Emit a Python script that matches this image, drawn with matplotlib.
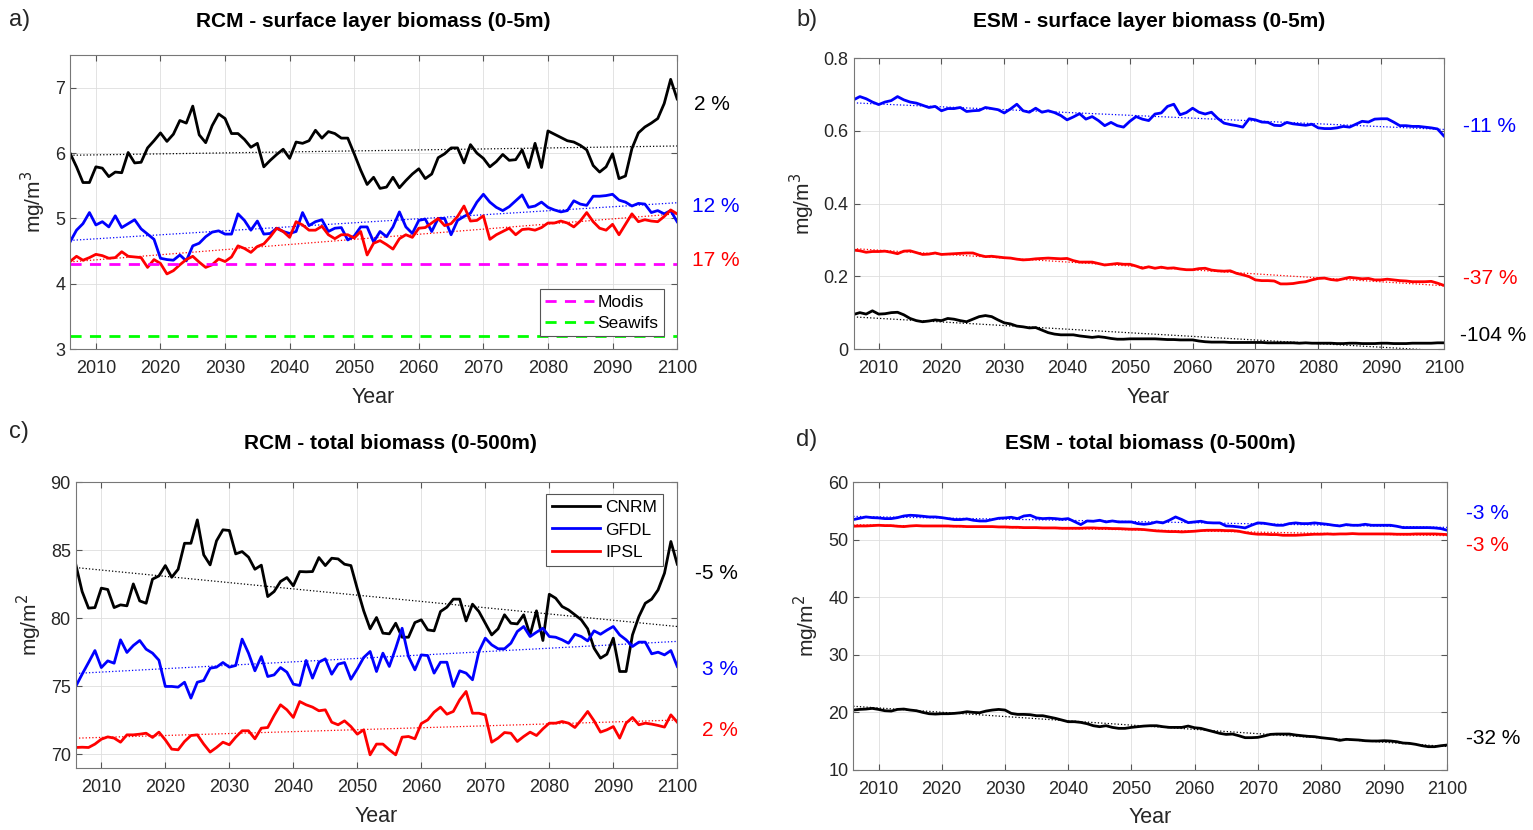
import numpy as np
import matplotlib
matplotlib.use('Agg')
import matplotlib.pyplot as plt

plt.rcParams['font.family'] = ['Liberation Sans', 'DejaVu Sans']

years = np.arange(2006, 2101)

# a) RCM surface layer (mg/m3)
rcm_surf_cnrm = [6.00, 5.79, 5.55, 5.55, 5.79, 5.77, 5.64, 5.71, 5.70, 6.01,
                 5.85, 5.86, 6.08, 6.19, 6.31, 6.18, 6.29, 6.50, 6.46, 6.72,
                 6.28, 6.16, 6.42, 6.60, 6.53, 6.30, 6.30, 6.21, 6.09, 6.15,
                 5.79, 5.89, 5.98, 6.06, 5.92, 6.17, 6.15, 6.19, 6.35, 6.23,
                 6.33, 6.30, 6.23, 6.23, 5.99, 5.74, 5.52, 5.63, 5.46, 5.48,
                 5.63, 5.47, 5.58, 5.68, 5.76, 5.61, 5.68, 5.93, 5.99, 6.08,
                 6.08, 5.85, 6.13, 6.00, 5.92, 5.79, 5.87, 5.98, 5.89, 5.90,
                 6.05, 5.78, 6.15, 5.78, 6.34, 6.29, 6.24, 6.19, 6.17, 6.12,
                 6.05, 5.81, 5.71, 5.79, 5.99, 5.61, 5.65, 6.07, 6.31, 6.40,
                 6.46, 6.53, 6.76, 7.13, 6.83]
rcm_surf_gfdl = [4.64, 4.82, 4.92, 5.09, 4.90, 4.95, 4.87, 5.04, 4.86, 4.92,
                 4.98, 4.84, 4.76, 4.68, 4.39, 4.37, 4.36, 4.44, 4.35, 4.58,
                 4.62, 4.72, 4.79, 4.81, 4.76, 4.76, 5.07, 4.97, 4.82, 4.96,
                 4.76, 4.77, 4.85, 4.80, 4.77, 4.80, 5.09, 4.89, 4.95, 4.98,
                 4.80, 4.85, 4.86, 4.67, 4.73, 4.87, 4.87, 4.64, 4.80, 4.72,
                 4.87, 5.10, 4.87, 4.77, 4.97, 4.99, 4.80, 5.00, 5.00, 4.75,
                 4.97, 5.03, 5.08, 5.25, 5.37, 5.25, 5.17, 5.12, 5.18, 5.27,
                 5.36, 5.17, 5.19, 5.25, 5.17, 5.13, 5.10, 5.12, 5.27, 5.22,
                 5.20, 5.34, 5.34, 5.35, 5.37, 5.28, 5.25, 5.19, 5.23, 5.22,
                 5.09, 5.12, 5.07, 5.12, 4.95]
rcm_surf_ipsl = [4.34, 4.42, 4.36, 4.40, 4.45, 4.43, 4.39, 4.40, 4.49, 4.42,
                 4.41, 4.40, 4.25, 4.37, 4.31, 4.15, 4.20, 4.29, 4.37, 4.42,
                 4.33, 4.25, 4.29, 4.38, 4.34, 4.41, 4.58, 4.54, 4.48, 4.57,
                 4.61, 4.72, 4.85, 4.80, 4.71, 4.95, 4.90, 4.82, 4.82, 4.88,
                 4.75, 4.69, 4.75, 4.75, 4.70, 4.80, 4.44, 4.62, 4.66, 4.60,
                 4.53, 4.69, 4.75, 4.71, 4.85, 4.86, 4.93, 5.00, 4.89, 4.92,
                 5.03, 5.19, 4.96, 4.97, 5.04, 4.68, 4.75, 4.80, 4.85, 4.75,
                 4.83, 4.84, 4.82, 4.86, 4.93, 4.93, 4.96, 4.93, 4.87, 4.96,
                 5.09, 4.95, 4.85, 4.82, 4.91, 4.75, 4.91, 5.07, 4.95, 4.98,
                 4.96, 4.95, 5.03, 5.13, 5.07]
modis = 4.3
seawifs = 3.2

# b) ESM surface layer (mg/m3)
esm_surf_cnrm = [0.095, 0.100, 0.096, 0.105, 0.096, 0.097, 0.100, 0.101, 0.094, 0.084,
                 0.078, 0.075, 0.077, 0.080, 0.078, 0.084, 0.082, 0.078, 0.075, 0.082,
                 0.089, 0.092, 0.089, 0.080, 0.072, 0.069, 0.063, 0.061, 0.058, 0.059,
                 0.052, 0.045, 0.041, 0.039, 0.039, 0.039, 0.036, 0.034, 0.032, 0.034,
                 0.032, 0.029, 0.027, 0.027, 0.028, 0.028, 0.028, 0.028, 0.028, 0.027,
                 0.026, 0.026, 0.025, 0.025, 0.025, 0.022, 0.020, 0.019, 0.019, 0.019,
                 0.018, 0.018, 0.018, 0.018, 0.018, 0.018, 0.017, 0.017, 0.017, 0.017,
                 0.017, 0.016, 0.017, 0.016, 0.016, 0.016, 0.016, 0.015, 0.015, 0.016,
                 0.016, 0.015, 0.015, 0.015, 0.016, 0.016, 0.015, 0.015, 0.015, 0.016,
                 0.016, 0.016, 0.016, 0.017, 0.017]
esm_surf_gfdl = [0.685, 0.694, 0.688, 0.679, 0.672, 0.679, 0.683, 0.694, 0.685, 0.679,
                 0.676, 0.670, 0.664, 0.667, 0.655, 0.661, 0.661, 0.664, 0.653, 0.655,
                 0.656, 0.664, 0.661, 0.658, 0.649, 0.660, 0.673, 0.655, 0.651, 0.662,
                 0.651, 0.655, 0.650, 0.642, 0.630, 0.638, 0.647, 0.632, 0.639, 0.628,
                 0.614, 0.623, 0.614, 0.610, 0.626, 0.639, 0.632, 0.628, 0.646, 0.649,
                 0.667, 0.673, 0.644, 0.650, 0.662, 0.651, 0.646, 0.651, 0.634, 0.621,
                 0.617, 0.614, 0.610, 0.633, 0.630, 0.624, 0.623, 0.615, 0.614, 0.623,
                 0.619, 0.617, 0.615, 0.618, 0.608, 0.606, 0.606, 0.608, 0.612, 0.610,
                 0.618, 0.626, 0.624, 0.632, 0.633, 0.633, 0.624, 0.614, 0.614, 0.612,
                 0.612, 0.610, 0.608, 0.605, 0.586]
esm_surf_ipsl = [0.272, 0.270, 0.266, 0.268, 0.268, 0.269, 0.266, 0.262, 0.269, 0.270,
                 0.265, 0.260, 0.261, 0.264, 0.260, 0.261, 0.262, 0.263, 0.264, 0.264,
                 0.258, 0.254, 0.255, 0.253, 0.251, 0.250, 0.247, 0.245, 0.246, 0.248,
                 0.249, 0.250, 0.249, 0.248, 0.249, 0.243, 0.239, 0.239, 0.239, 0.235,
                 0.231, 0.233, 0.235, 0.233, 0.233, 0.228, 0.222, 0.226, 0.222, 0.225,
                 0.222, 0.223, 0.220, 0.218, 0.218, 0.221, 0.222, 0.217, 0.215, 0.214,
                 0.215, 0.208, 0.204, 0.199, 0.190, 0.188, 0.188, 0.187, 0.179, 0.179,
                 0.180, 0.183, 0.185, 0.190, 0.194, 0.195, 0.191, 0.189, 0.193, 0.197,
                 0.195, 0.193, 0.194, 0.190, 0.190, 0.192, 0.190, 0.188, 0.187, 0.185,
                 0.185, 0.185, 0.186, 0.181, 0.175]

# c) RCM total biomass (mg/m2)
rcm_tot_cnrm = [83.97, 81.96, 80.74, 80.78, 82.21, 82.11, 80.78, 80.98, 80.91, 82.52,
                81.27, 81.10, 82.87, 83.11, 83.87, 83.01, 83.60, 85.51, 85.51, 87.23,
                84.66, 83.92, 85.69, 86.50, 86.45, 84.73, 84.90, 84.49, 83.60, 83.90,
                81.59, 81.96, 82.70, 82.99, 82.38, 83.43, 83.41, 83.43, 84.46, 83.87,
                84.41, 84.36, 83.97, 83.87, 82.16, 80.54, 79.22, 80.05, 78.90, 78.85,
                79.63, 78.60, 78.60, 79.68, 79.88, 79.14, 79.07, 80.49, 80.81, 81.40,
                81.40, 79.80, 81.03, 80.49, 79.63, 78.77, 79.22, 80.25, 79.63, 79.58,
                80.25, 78.77, 80.54, 78.36, 81.76, 81.47, 80.86, 80.61, 80.25, 79.88,
                79.22, 77.79, 77.06, 77.35, 78.53, 76.08, 76.08, 78.77, 80.12, 81.10,
                81.40, 82.08, 83.31, 85.64, 83.97]
rcm_tot_gfdl = [74.98, 75.88, 76.74, 77.62, 76.37, 76.86, 76.69, 78.41, 77.48, 77.99,
                78.36, 77.72, 77.43, 76.91, 74.98, 74.98, 74.93, 75.29, 74.12, 75.29,
                75.42, 76.32, 76.40, 76.74, 76.40, 76.52, 78.46, 77.43, 76.13, 77.18,
                75.71, 75.83, 76.37, 76.03, 75.15, 75.05, 76.89, 75.59, 76.76, 77.01,
                75.88, 76.62, 76.74, 75.51, 76.27, 77.11, 77.55, 76.08, 77.43, 76.45,
                77.79, 79.26, 77.18, 76.20, 77.30, 77.25, 75.96, 76.76, 76.76, 74.98,
                76.13, 75.96, 75.47, 77.55, 78.53, 78.04, 77.75, 77.75, 78.16, 79.02,
                79.39, 78.65, 78.97, 79.26, 78.65, 78.60, 78.41, 78.16, 78.82, 78.65,
                78.33, 79.07, 78.82, 79.12, 79.39, 78.77, 78.41, 77.92, 78.24, 78.24,
                77.38, 77.50, 77.30, 77.62, 76.45]
rcm_tot_ipsl = [70.49, 70.51, 70.49, 70.74, 71.10, 71.27, 71.18, 70.88, 71.42, 71.42,
                71.47, 71.54, 71.23, 71.62, 71.05, 70.37, 70.32, 70.93, 71.37, 71.42,
                70.74, 70.15, 70.49, 70.88, 70.69, 71.25, 71.72, 71.72, 71.13, 71.91,
                71.96, 72.84, 73.63, 73.26, 72.70, 73.87, 73.63, 73.46, 73.19, 73.26,
                72.35, 72.16, 72.45, 72.03, 71.47, 71.79, 69.95, 70.74, 70.74, 70.32,
                69.95, 71.25, 71.30, 71.13, 72.25, 72.52, 73.09, 73.46, 72.94, 73.14,
                74.00, 74.61, 73.01, 73.01, 72.89, 70.88, 71.18, 71.59, 71.54, 70.93,
                71.30, 71.62, 71.37, 71.86, 72.28, 72.28, 72.40, 72.28, 71.96, 72.52,
                73.14, 72.45, 71.62, 71.79, 72.03, 71.18, 72.28, 72.70, 72.16, 72.28,
                72.21, 72.11, 71.99, 72.89, 72.35]

# d) ESM total biomass (mg/m2)
esm_tot_cnrm = [20.38, 20.49, 20.55, 20.67, 20.49, 20.26, 20.20, 20.49, 20.55, 20.38,
                20.26, 19.97, 19.74, 19.68, 19.74, 19.74, 19.80, 19.91, 20.09, 19.97,
                19.91, 20.20, 20.38, 20.49, 20.38, 19.80, 19.62, 19.62, 19.57, 19.39,
                19.39, 19.16, 18.93, 18.64, 18.35, 18.35, 18.23, 18.00, 17.65, 17.48,
                17.65, 17.36, 17.19, 17.19, 17.36, 17.48, 17.59, 17.65, 17.65, 17.48,
                17.36, 17.36, 17.36, 17.59, 17.30, 17.19, 16.90, 16.61, 16.32, 16.14,
                16.20, 15.91, 15.57, 15.57, 15.62, 15.86, 16.14, 16.20, 16.20, 16.20,
                16.03, 15.91, 15.80, 15.74, 15.57, 15.45, 15.33, 15.10, 15.28, 15.22,
                15.16, 15.04, 14.99, 14.99, 15.04, 14.99, 14.87, 14.64, 14.58, 14.41,
                14.17, 14.00, 14.00, 14.17, 14.29]
esm_tot_gfdl = [53.54, 53.77, 54.00, 53.88, 53.83, 53.71, 53.71, 53.88, 54.17, 54.29,
                54.23, 54.12, 54.00, 54.00, 53.88, 53.71, 53.54, 53.54, 53.65, 53.42,
                53.30, 53.30, 53.54, 53.77, 53.83, 53.94, 53.71, 54.17, 54.29, 53.83,
                53.71, 53.77, 53.71, 53.59, 53.71, 53.19, 52.67, 53.30, 53.25, 53.42,
                53.13, 53.30, 53.13, 53.13, 53.13, 52.84, 52.72, 52.84, 53.13, 52.96,
                53.42, 54.00, 53.54, 53.01, 53.13, 53.25, 53.01, 52.96, 52.96, 52.43,
                52.38, 52.26, 52.09, 52.55, 52.96, 52.90, 52.72, 52.55, 52.55, 52.84,
                52.96, 52.84, 52.84, 52.96, 52.84, 52.72, 52.55, 52.43, 52.67, 52.55,
                52.55, 52.72, 52.55, 52.55, 52.55, 52.55, 52.38, 52.14, 52.14, 52.14,
                52.14, 52.14, 52.09, 51.97, 51.68]
esm_tot_ipsl = [52.38, 52.43, 52.43, 52.49, 52.55, 52.49, 52.49, 52.38, 52.32, 52.43,
                52.49, 52.43, 52.43, 52.43, 52.43, 52.43, 52.38, 52.38, 52.32, 52.32,
                52.32, 52.32, 52.32, 52.26, 52.26, 52.20, 52.20, 52.14, 52.14, 52.14,
                52.09, 52.09, 52.09, 52.03, 52.03, 52.03, 52.03, 52.09, 52.09, 52.03,
                52.03, 51.97, 51.97, 51.91, 51.86, 51.86, 51.80, 51.68, 51.57, 51.51,
                51.45, 51.45, 51.39, 51.45, 51.51, 51.62, 51.68, 51.68, 51.68, 51.62,
                51.62, 51.51, 51.28, 51.10, 50.99, 50.99, 50.93, 50.93, 50.81, 50.81,
                50.81, 50.87, 50.93, 50.99, 50.99, 51.04, 50.99, 51.04, 51.04, 51.10,
                51.04, 51.04, 51.04, 51.04, 51.04, 51.04, 50.99, 50.99, 50.99, 51.04,
                51.04, 51.04, 51.04, 50.99, 50.93]

models = ['CNRM', 'GFDL', 'IPSL']
colores = ['#000000', '#0000ff', '#ff0000']
xticks = np.arange(2010, 2101, 10)

txt = '#262626'
fig = plt.figure(figsize=(15.33, 8.3), dpi=100)


def panel(rect, series, ylim, yticks, ylabel, title, pcts, tpad=20, tx=0.5):
    ax = fig.add_axes(rect)
    for s, c in zip(series, colores):
        s = np.array(s)
        coef = np.polyfit(years, s, 1)
        ax.plot(years, np.polyval(coef, years), ':', color=c, lw=0.9)
    lines = []
    for s, c, m in zip(series, colores, models):
        l, = ax.plot(years, s, '-', color=c, lw=2, label=m)
        lines.append(l)
    ax.set_xlim(2006, 2100)
    ax.set_ylim(*ylim)
    ax.set_xticks(xticks)
    ax.set_yticks(yticks)
    ax.grid(True, color='#dedede', lw=0.6)
    ax.set_axisbelow(True)
    ax.tick_params(direction='in', length=4, top=True, right=True,
                   labelsize=13, colors=txt)
    ax.tick_params(axis='x', pad=8)
    ax.tick_params(color='#555555')
    for sp in ax.spines.values():
        sp.set_color('#777777')
        sp.set_linewidth(0.8)
    ax.set_xlabel('Year', fontsize=15.5, color=txt, labelpad=7)
    ax.set_ylabel(ylabel, fontsize=15, color=txt, labelpad=5)
    ax.set_title(title, fontsize=15, fontweight='bold', pad=tpad, x=tx)
    for (t, c, x, y) in pcts:
        ax.text(x, y, t, color=c, fontsize=15, ha='left', va='center', clip_on=False)
    return ax, lines


ax_a, _ = panel([0.0457, 0.5795, 0.396, 0.354],
                [rcm_surf_cnrm, rcm_surf_gfdl, rcm_surf_ipsl],
                (3, 7.5), [3, 4, 5, 6, 7], 'mg/m$^3$',
                'RCM - surface layer biomass (0-5m)',
                [('2 %', 'k', 2102.6, 6.75), ('12 %', '#0000ff', 2102.3, 5.19),
                 ('17 %', '#ff0000', 2102.3, 4.36)], tpad=20)
ax_a.set_yticklabels(['3', '4', '5', '6', '7'])
h1 = ax_a.axhline(modis, color='#ff00ff', lw=2, dashes=(4, 3), label='Modis')
h2 = ax_a.axhline(seawifs, color='#00ff00', lw=2, dashes=(4, 3), label='Seawifs')
leg = ax_a.legend([h1, h2], ['Modis', 'Seawifs'], loc='lower right',
                  bbox_to_anchor=(0.978, 0.044), borderaxespad=0, fontsize=12.5,
                  fancybox=False, framealpha=1, edgecolor='#555555',
                  handlelength=2.8, borderpad=0.3, labelspacing=0.35, handletextpad=0.2)
leg.get_frame().set_linewidth(0.8)

ax_b, _ = panel([0.5568, 0.5795, 0.385, 0.3506],
                [esm_surf_cnrm, esm_surf_gfdl, esm_surf_ipsl],
                (0, 0.8), [0, 0.2, 0.4, 0.6, 0.8], 'mg/m$^3$',
                'ESM - surface layer biomass (0-5m)',
                [('-11 %', '#0000ff', 2103.1, 0.611), ('-37 %', '#ff0000', 2103.1, 0.193),
                 ('-104 %', 'k', 2102.6, 0.036)], tpad=22)
ax_b.set_yticklabels(['0', '0.2', '0.4', '0.6', '0.8'])

ax_c, lines_c = panel([0.0494, 0.075, 0.3924, 0.344],
                      [rcm_tot_cnrm, rcm_tot_gfdl, rcm_tot_ipsl],
                      (69, 90), [70, 75, 80, 85, 90], 'mg/m$^2$',
                      'RCM - total biomass (0-500m)',
                      [('-5 %', 'k', 2102.8, 83.26), ('3 %', '#0000ff', 2103.9, 76.2),
                       ('2 %', '#ff0000', 2103.9, 71.71)], tpad=24, tx=0.523)
leg = ax_c.legend(lines_c, models, loc='upper right', bbox_to_anchor=(0.977, 0.958),
                  borderaxespad=0, fontsize=12.5, fancybox=False, framealpha=1,
                  edgecolor='#555555', handlelength=2.8, borderpad=0.35,
                  labelspacing=0.4, handletextpad=0.3)
leg.get_frame().set_linewidth(0.8)

ax_d, _ = panel([0.5566, 0.0727, 0.3875, 0.346],
                [esm_tot_cnrm, esm_tot_gfdl, esm_tot_ipsl],
                (10, 60), [10, 20, 30, 40, 50, 60], 'mg/m$^2$',
                'ESM - total biomass (0-500m)',
                [('-3 %', '#0000ff', 2103.0, 54.64), ('-3 %', '#ff0000', 2103.0, 49.08),
                 ('-32 %', 'k', 2103.0, 15.51)], tpad=24)

for lab, x, y in [('a)', 9 / 1533, 1 - 20 / 830), ('b)', 796 / 1533, 1 - 20 / 830),
                  ('c)', 9 / 1533, 1 - 432 / 830), ('d)', 796 / 1533, 1 - 440 / 830)]:
    fig.text(x, y, lab, fontsize=17, color=txt, ha='left', va='center')

fig.savefig('out.png', dpi=100)
